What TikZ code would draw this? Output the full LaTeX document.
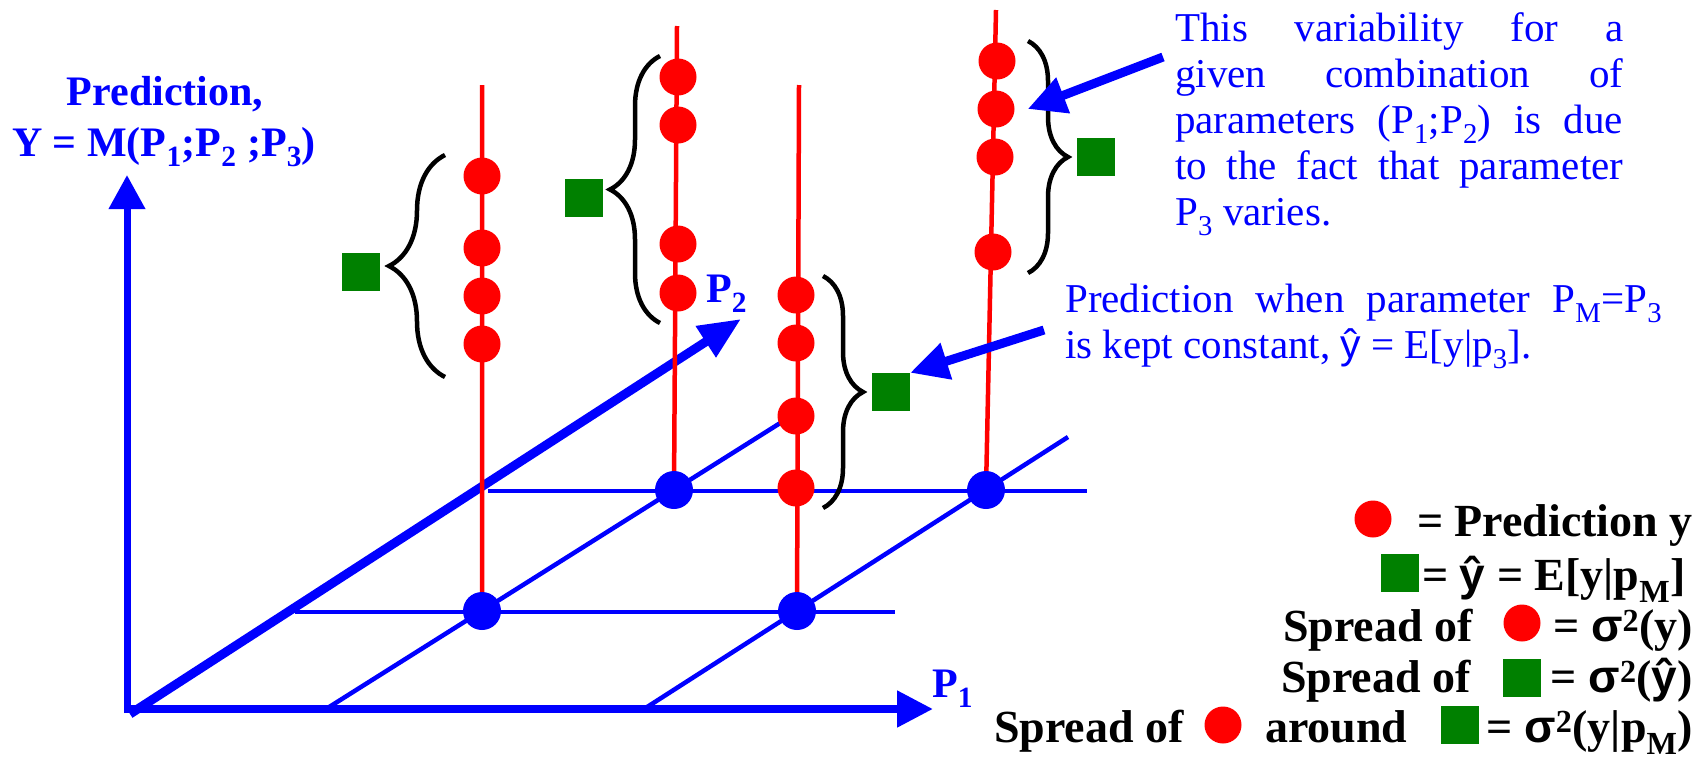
\documentclass[tikz,border=0pt]{standalone}
\usepackage{fontspec}
\setmainfont{Liberation Serif}
\newfontfamily\glyphsans{Liberation Sans}
\usetikzlibrary{arrows.meta,decorations.pathreplacing}
\definecolor{meangreen}{RGB}{0,128,0}

\begin{document}
\begin{tikzpicture}[
    x=1pt, y=-1pt,
    axis arrow/.style={draw=blue,-{Triangle[length=#1,width=35pt]}},
    grid line/.style={draw=blue,line width=4.5pt},
    pred line/.style={draw=red,line width=4.5pt},
    grid dot/.style={circle,fill=blue,minimum size=38pt,inner sep=0pt},
    pred dot/.style={circle,fill=red,minimum size=37pt,inner sep=0pt},
    mean box/.style={fill=meangreen,minimum size=38pt,inner sep=0pt},
    spread brace/.style={draw,line width=4.5pt,decorate,decoration={brace,amplitude=#1}},
    note arrow/.style={draw=blue,line width=9pt,-{Triangle[length=38pt,width=36pt]}},
    axis label/.style={text=blue,inner sep=0pt,font=\bfseries\fontsize{42}{50}\selectfont},
    note/.style={text=blue,inner sep=0pt,align=left,font=\fontsize{41}{46}\selectfont},
    legend/.style={inner sep=0pt,font=\bfseries\fontsize{46}{52}\selectfont}
  ]
    \useasboundingbox (0,0) rectangle (1705,758);

    % Axes
    \coordinate (O)      at (127,713);
    \coordinate (ytip)   at (127,175);
    \coordinate (p1tail) at (124,709);
    \coordinate (p1tip)  at (933,709);
    \coordinate (p2tail) at (130,714);
    \coordinate (p2tip)  at (741,319);
    \draw[axis arrow=34pt, line width=7pt] (O) -- (ytip);
    \draw[axis arrow=36pt, line width=8pt] (p1tail) -- (p1tip);
    \draw[axis arrow=42pt, line width=9pt] (p2tail) -- (p2tip);

    \node[axis label, anchor=base] (ylabtop) at (165,105) {Prediction,};
    \node[axis label, anchor=base] (ylabbot) at (164,156)
      {Y = M(P\textsubscript{1};P\textsubscript{2} ;P\textsubscript{3})};
    \node[axis label, anchor=base west] (p1lab) at (932,697) {P\textsubscript{1}};
    \node[axis label, anchor=base west] (p2lab) at (706,302) {P\textsubscript{2}};

    % Grid in the (P1,P2) plane
    \coordinate (g1s) at (326,709);  \coordinate (g1e) at (785,420);
    \coordinate (g2s) at (644,709);  \coordinate (g2e) at (1068,437);
    \coordinate (h1s) at (295,612);  \coordinate (h1e) at (895,612);
    \coordinate (h2s) at (488,491);  \coordinate (h2e) at (1087,491);
    \draw[grid line] (g1s) -- (g1e) (g2s) -- (g2e);
    \draw[grid line] (h1s) -- (h1e) (h2s) -- (h2e);

    % Prediction columns
    \coordinate (c1) at (482,611);  \coordinate (t1) at (482,85);
    \coordinate (c2) at (674,490);  \coordinate (t2) at (677,26);
    \coordinate (c3) at (797,611);  \coordinate (t3) at (799,85);
    \coordinate (c4) at (986,490);  \coordinate (t4) at (996,10);
    \draw[pred line] (c1) -- (t1) (c2) -- (t2) (c3) -- (t3) (c4) -- (t4);

    \foreach \c in {1,2,3,4}
      \node[grid dot] (b\c) at (c\c) {};

    \foreach \y [count=\i] in {176,248,296,344}
      \node[pred dot] (d1\i) at (482,\y) {};
    \foreach \y [count=\i] in {77,125,244,293}
      \node[pred dot] (d2\i) at (678,\y) {};
    \foreach \y [count=\i] in {295,343,416,488}
      \node[pred dot] (d3\i) at (796,\y) {};
    \foreach \x/\y [count=\i] in {997/61,996/109,995/157,993/252}
      \node[pred dot] (d4\i) at (\x,\y) {};

    % Spread braces and means
    \coordinate (br1a) at (445,377);  \coordinate (br1b) at (445,155);
    \coordinate (br2a) at (660,323);  \coordinate (br2b) at (660,56);
    \coordinate (br3a) at (823,276);  \coordinate (br3b) at (823,508);
    \coordinate (br4a) at (1028,41);  \coordinate (br4b) at (1028,273);
    \draw[spread brace=56pt] (br1a) -- (br1b);
    \draw[spread brace=50pt] (br2a) -- (br2b);
    \draw[spread brace=40pt] (br3a) -- (br3b);
    \draw[spread brace=40pt] (br4a) -- (br4b);

    \node[mean box] (m1) at (361,272) {};
    \node[mean box] (m2) at (584,198) {};
    \node[mean box] (m3) at (891,392) {};
    \node[mean box] (m4) at (1096,157) {};

    % Notes (base = last line)
    \node[note, anchor=base west] (varnote) at (1175,225)
      {\makebox[448pt][s]{This variability for a}\\
       \makebox[448pt][s]{given combination of}\\
       \makebox[448pt][s]{parameters (P\textsubscript{1};P\textsubscript{2}) is due}\\
       \makebox[448pt][s]{to the fact that parameter}\\
       P\textsubscript{3} varies.};
    \node[note, anchor=base west] (meannote) at (1065,358)
      {\makebox[597pt][s]{Prediction when parameter P\textsubscript{M}=P\textsubscript{3}}\\
       is kept constant, {\glyphsans ŷ} = E[y|p\textsubscript{3}].};

    \coordinate (n1tail) at (1163,57);
    \coordinate (n2tail) at (1044,330);
    \draw[note arrow] (n1tail) -- ([xshift=13pt]d42.east);
    \draw[note arrow] (n2tail) -- (m3.north east);

    % Legend
    \node[pred dot] (lgdot1) at (1373,519) {};
    \node[legend, anchor=base east] (lg1) at (1693,536) {= Prediction y};
    \node[mean box] (lgbox1) at (1400,573) {};
    \node[legend, anchor=base west] (lg2) at (1422,590)
      {= {\glyphsans\bfseries ŷ} = E[y|p\textsubscript{M}]};
    \node[legend, anchor=base west] (lg3a) at (1283,641) {Spread of};
    \node[pred dot] (lgdot2) at (1522,623) {};
    \node[legend, anchor=base east] (lg3b) at (1693,641)
      {= {\glyphsans\bfseries σ}\textsuperscript{2}(y)};
    \node[legend, anchor=base west] (lg4a) at (1281,692) {Spread of};
    \node[mean box] (lgbox2) at (1522,678) {};
    \node[legend, anchor=base east] (lg4b) at (1693,692)
      {= {\glyphsans\bfseries σ}\textsuperscript{2}({\glyphsans\bfseries ŷ})};
    \node[legend, anchor=base west] (lg5a) at (994,742) {Spread of};
    \node[pred dot] (lgdot3) at (1223,725) {};
    \node[legend, anchor=base west] (lg5b) at (1265,742) {around};
    \node[mean box] (lgbox3) at (1460,725) {};
    \node[legend, anchor=base east] (lg5c) at (1693,742)
      {= {\glyphsans\bfseries σ}\textsuperscript{2}(y|p\textsubscript{M})};
\end{tikzpicture}
\end{document}
